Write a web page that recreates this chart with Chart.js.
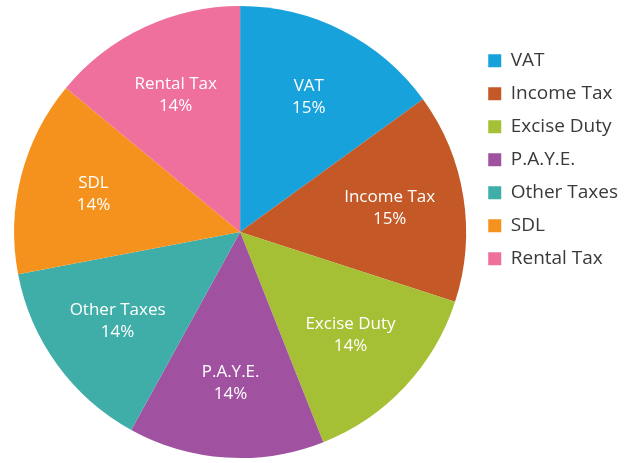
<!DOCTYPE html>
<html>
<head>
<meta charset="utf-8">
<script src="https://cdn.jsdelivr.net/npm/chart.js@4/dist/chart.umd.min.js"></script>
<style>
  html, body { margin: 0; padding: 0; background: #fff; }
  #wrap { width: 634px; height: 463px; }
</style>
</head>
<body>
<div id="wrap"><canvas id="tax-pie"></canvas></div>
<script>
// 税种分类及占比
const taxNames = ['VAT', 'Income Tax', 'Excise Duty', 'P.A.Y.E.', 'Other Taxes', 'SDL', 'Rental Tax'];
const taxShares = [15, 15, 14, 14, 14, 14, 14];
const sliceColors = ['#18a2dc', '#c45827', '#a5c034', '#a052a0', '#40aea8', '#f5921e', '#ef6f9d'];

const FONT = '"Open Sans", "Noto Sans", sans-serif';

// 在扇区内绘制名称和百分比
const sliceLabels = {
    id: 'sliceLabels',
    afterDatasetsDraw(chart) {
        const ctx = chart.ctx;
        const meta = chart.getDatasetMeta(0);
        ctx.save();
        ctx.fillStyle = '#ffffff';
        ctx.font = '17px ' + FONT;
        ctx.textAlign = 'center';
        ctx.textBaseline = 'middle';
        meta.data.forEach((arc, i) => {
            const p = arc.getProps(['x', 'y', 'startAngle', 'endAngle', 'outerRadius'], true);
            const mid = (p.startAngle + p.endAngle) / 2;
            const r = p.outerRadius * 0.67;
            const cx = p.x + Math.cos(mid) * r;
            const cy = p.y + Math.sin(mid) * r;
            ctx.fillText(taxNames[i], cx, cy - 11);
            ctx.fillText(taxShares[i] + '%', cx, cy + 11);
        });
        ctx.restore();
    }
};

const ctx = document.getElementById('tax-pie').getContext('2d');
new Chart(ctx, {
    type: 'pie',
    data: {
        labels: taxNames,
        datasets: [{
            data: taxShares,
            backgroundColor: sliceColors,
            borderWidth: 0
        }]
    },
    options: {
        responsive: true,
        maintainAspectRatio: false,
        animation: false,
        layout: {
            padding: { top: 6, bottom: 5, left: 6, right: 6 }
        },
        plugins: {
            tooltip: { enabled: false },
            legend: {
                position: 'right',
                align: 'start',
                title: {
                    display: true,
                    text: '',
                    padding: { top: 30, bottom: 0 },
                    font: { size: 1 }
                },
                labels: {
                    boxWidth: 13,
                    boxHeight: 13,
                    padding: 14,
                    color: '#3a3a3a',
                    font: { family: FONT, size: 19 }
                }
            }
        }
    },
    plugins: [sliceLabels]
});
</script>
</body>
</html>
